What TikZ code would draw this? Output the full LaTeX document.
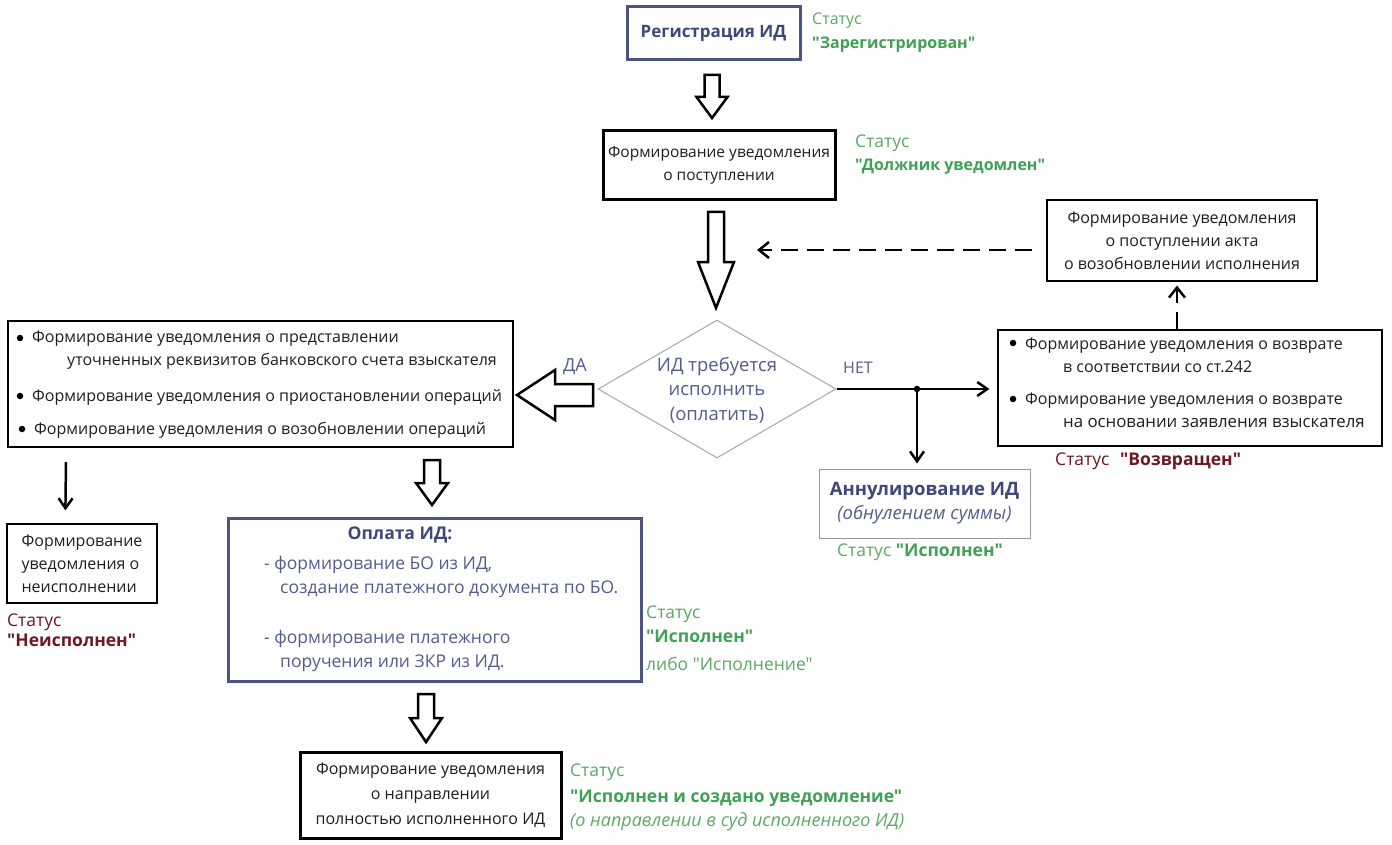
\documentclass[tikz,border=0pt]{standalone}
\usepackage{fontspec}
\setmainfont{Open Sans}[Ligatures=TeXOff]
\usetikzlibrary{arrows.meta,shapes.geometric,calc}
\definecolor{bluetxt}{RGB}{62,72,122}
\definecolor{bluelt}{RGB}{84,92,140}
\definecolor{blueborder}{RGB}{78,84,130}
\definecolor{grn}{RGB}{64,160,84}
\definecolor{grnlt}{RGB}{90,170,100}
\definecolor{drd}{RGB}{110,24,36}
\definecolor{dtxt}{RGB}{30,30,30}
\newcommand\hollowdown[6]{\draw[blk] ({#1-#5},#2) -- ({#1+#5},#2) -- ({#1+#5},#3) -- ({#1+#6},#3) -- (#1,#4) -- ({#1-#6},#3) -- ({#1-#5},#3) -- cycle;}
\begin{document}
\begin{tikzpicture}[x=1pt,y=-1pt,
  every node/.style={font=\fontsize{16}{23}\selectfont, inner sep=0pt, text=dtxt},
  bbox/.style={draw=black, line width=3pt, align=center},
  blbox/.style={draw=blueborder, line width=3pt, align=center},
  tbox/.style={draw=black, line width=1.2pt, align=center},
  gbox/.style={draw=gray!80, line width=1pt, align=center},
  blk/.style={draw=black, line width=2.5pt, fill=white, line join=miter},
  arr/.style={draw=black, line width=2.5pt, -{Straight Barb[length=10pt,width=14pt,line width=2.5pt]}},
  darr/.style={draw=black, line width=2.5pt, dash pattern=on 17pt off 9pt, -{Straight Barb[length=10pt,width=16pt,line width=2.5pt]}},
  lt/.style={anchor=base west},
  big/.style={font=\fontsize{17.5}{23}\selectfont},
  bigb/.style={font=\fontsize{17.5}{23}\selectfont\bfseries},
  st/.style={anchor=base west, text=grnlt},
  stb/.style={anchor=base west, text=grn, font=\fontsize{16}{23}\selectfont\bfseries},
  dot/.style={circle, fill=black, minimum size=6.5pt, inner sep=0pt}
]
\useasboundingbox[fill=white] (0,0) rectangle (1392,845);

% Registration
\node[blbox, minimum width=173pt, minimum height=53pt, text=bluetxt, font=\fontsize{17}{23}\selectfont\bfseries] (reg) at (713.5,33.5) {Регистрация ИД};
\node[st] (s1a) at (812,25) {Статус};
\node[stb] (s1b) at (812,49) {"Зарегистрирован"};

\hollowdown{712}{75}{97}{118}{7.5}{15.5}

% notification of receipt
\node[bbox, line width=3pt, minimum width=232pt, minimum height=69pt, font=\fontsize{15.5}{23}\selectfont] (rcv) at (719,165.5) {Формирование уведомления\\о поступлении};
\node[st, big] (s2a) at (855,148) {Статус};
\node[stb] (s2b) at (855,171) {"Должник уведомлен"};

\hollowdown{716}{212}{262}{308}{8}{18}

% act box
\node[tbox, minimum width=270pt, minimum height=81pt] (akt) at (1182,240.5) {Формирование уведомления\\о поступлении акта\\о возобновлении исполнения};
\draw[darr] ($(akt.west)+(-14,9.5)$) -- (757,250);

% decision
\node[diamond, draw=gray!70, line width=1pt, minimum width=238pt, minimum height=138pt, inner sep=0pt] (dec) at (717,389) {};
\node[align=center, text=bluelt, font=\fontsize{18.5}{24.5}\selectfont] (dect) at (717,390) {ИД требуется\\исполнить\\(оплатить)};
\node[text=bluelt, font=\fontsize{18}{23}\selectfont] (yes) at (575,367) {ДА};
\node[text=bluelt] (no) at (858,368) {НЕТ};

% left hollow arrow
\draw[blk] (593,384) -- (555,384) -- (555,370) -- (517,395) -- (555,420) -- (555,406) -- (593,406) -- cycle;

% left box
\node[tbox, minimum width=505pt, minimum height=126pt] (lbox) at (260.5,384) {};
\node[dot] at (20,338) {};
\node[lt] (l1) at (32,342) {Формирование уведомления о представлении};
\node[lt] (l2) at (67,365) {уточненных реквизитов банковского счета взыскателя};
\node[dot] at (20,396) {};
\node[lt] (l3) at (32,401) {Формирование уведомления о приостановлении операций};
\node[dot] at (22,429) {};
\node[lt] (l4) at (34,434) {Формирование уведомления о возобновлении операций};

% non-execution
\node[tbox, minimum width=150pt, minimum height=79pt, align=left] (nonisp) at (82,563.5) {Формирование\\уведомления о\\неисполнении};
\draw[arr] (66,462) -- ($(nonisp.north west)+(59,-13)$);
\node[lt, text=drd, big] (s3a) at (7,626) {Статус};
\node[lt, text=drd, bigb] (s3b) at (7,646) {"Неисполнен"};

\hollowdown{432}{460}{483}{505}{8}{16}

% payment
\node[blbox, minimum width=413pt, minimum height=163pt] (pay) at (434.5,599.5) {};
\node[text=bluetxt, bigb] (payt) at (400,535) {Оплата ИД:};
\node[lt, text=bluelt, big] (p1) at (264,569) {- формирование БО из ИД,};
\node[lt, text=bluelt, big] (p2) at (280,593) {создание платежного документа по БО.};
\node[lt, text=bluelt, big] (p3) at (264,643) {- формирование платежного};
\node[lt, text=bluelt, big] (p4) at (280,667) {поручения или ЗКР из ИД.};
\node[st, big] (s4a) at (646,618) {Статус};
\node[stb, bigb] (s4b) at (646,642) {"Исполнен"};
\node[st, big] (s4c) at (646,670) {либо "Исполнение"};

\hollowdown{426}{694}{718}{742}{8}{16}

% final
\node[bbox, minimum width=261pt, minimum height=86pt, font=\fontsize{16}{25}\selectfont] (fin) at (430.5,795) {Формирование уведомления\\о направлении\\полностью исполненного ИД};
\node[st, big] (s5a) at (570,776) {Статус};
\node[stb, bigb] (s5b) at (570,802) {"Исполнен и создано уведомление"};
\node[st, font=\fontsize{18}{23}\selectfont\itshape] (s5c) at (570,826) {(о направлении в суд исполненного ИД)};

% return box
\node[tbox, minimum width=384pt, minimum height=116pt] (ret) at (1190,388) {};
\node[dot] at (1013,343) {};
\node[lt] (r1) at (1025,349) {Формирование уведомления о возврате};
\node[lt] (r2) at (1063,372) {в соответствии со ст.242};
\node[dot] at (1013,399) {};
\node[lt] (r3) at (1025,404) {Формирование уведомления о возврате};
\node[lt, font=\fontsize{16.8}{23}\selectfont] (r4) at (1063,427) {на основании заявления взыскателя};
\node[lt, text=drd, big] (s6a) at (1055,465) {Статус};
\node[lt, text=drd, bigb] (s6b) at (1120,465) {"Возвращен"};
\draw[darr] (ret.north -| akt.south) ++(-5,0) coordinate (rup) -- ($(akt.south)+(-5,4)$);

% NET branch
\draw[arr] (dec.east) -- ($(ret.west)+(-8,1)$);
\node[dot] (j) at (917,389) {};
\node[gbox, minimum width=211pt, minimum height=69pt, font=\fontsize{18.5}{24}\selectfont] (ann) at (924.5,503.5) {\textcolor{bluetxt}{\bfseries Аннулирование ИД}\\\textcolor{bluelt}{\itshape (обнулением суммы)}};
\draw[arr] (j.center) -- ($(ann.north)+(-7.5,-5)$);
\node[anchor=base, text=grnlt, big] (s7) at (920,556) {Статус \textcolor{grn}{\bfseries "Исполнен"}};
\end{tikzpicture}
\end{document}
